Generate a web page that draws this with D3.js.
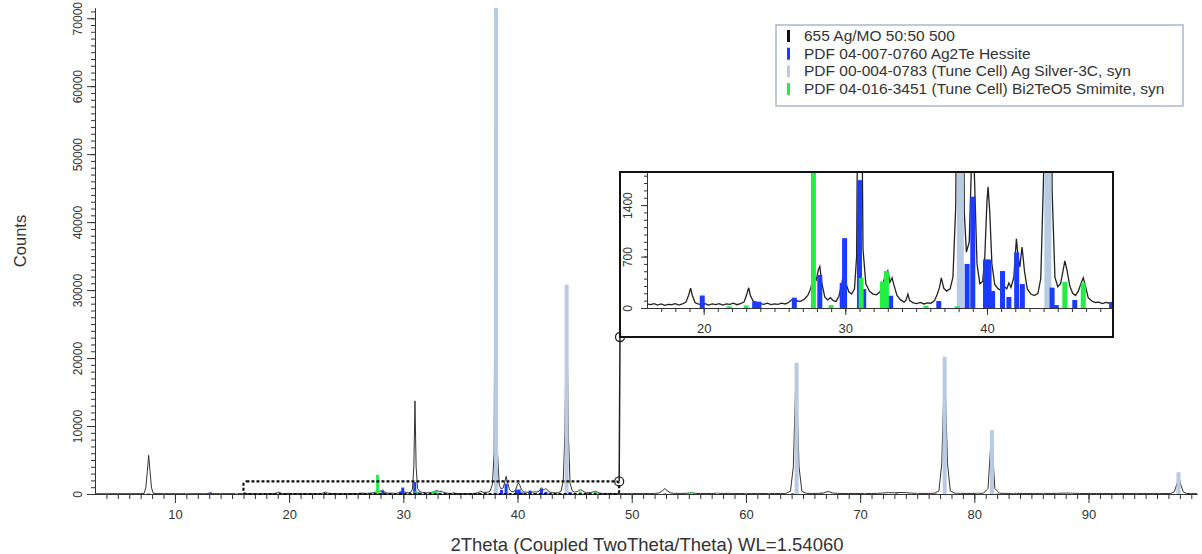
<!DOCTYPE html>
<html>
<head>
<meta charset="utf-8">
<script src="https://cdn.jsdelivr.net/npm/d3@7"></script>
<style>
  body { margin: 0; background: #fff; }
  text { font-family: "Liberation Sans", Arial, sans-serif; fill: #333; }
</style>
</head>
<body>
<svg width="1202" height="554"></svg>
<script>
var svg = d3.select('svg');

// measured scan: [2theta, counts]
var scan = [
  [3.0,30],[3.5,45],[4.0,35],[4.5,50],[5.0,40],[5.5,55],[6.0,45],[6.5,50],[7.0,60],[7.3,90],[7.45,900],[7.58,3300],[7.7,5700],[7.82,3300],[7.95,900],[8.1,100],[8.5,60],
  [9.0,50],[9.5,55],[10.0,45],[10.5,55],[11.0,50],[11.5,45],[12.0,55],[12.5,50],[13.0,60],[13.5,55],[14.0,50],[14.5,60],[15.0,55],[15.5,70],[16.0,55],
  [16.25,45],[16.5,60],[16.75,40],[17.0,55],[17.25,35],[17.5,50],[17.75,45],[18.0,60],[18.25,40],[18.5,55],[18.75,80],[18.95,180],[19.08,270],[19.2,170],[19.4,70],[19.6,55],
  [19.85,45],[20.1,60],[20.35,40],[20.6,55],[20.85,45],[21.1,60],[21.35,40],[21.6,55],[21.85,50],[22.1,65],[22.35,45],[22.6,60],[22.85,80],[23.05,190],[23.18,275],[23.3,170],
  [23.5,90],[23.75,75],[24.0,60],[24.25,50],[24.5,65],[24.75,45],[25.0,55],[25.25,50],[25.5,65],[25.75,55],[26.0,75],[26.2,110],[26.4,130],[26.6,95],[26.85,90],[27.1,120],
  [27.35,170],[27.55,260],[27.75,420],[27.95,380],[28.1,520],[28.2,565],[28.35,330],[28.55,150],[28.75,110],[28.95,140],[29.15,100],[29.35,90],[29.55,160],[29.75,330],[29.9,480],
  [30.05,330],[30.25,220],[30.45,190],[30.65,260],[30.8,700],[30.92,4000],[31.02,13700],[31.12,4000],[31.25,800],[31.45,330],[31.7,230],[31.95,190],[32.2,180],[32.45,220],
  [32.65,320],[32.85,470],[33.0,510],[33.15,350],[33.3,410],[33.45,300],[33.65,170],[33.9,110],[34.15,80],[34.3,110],[34.42,190],[34.55,100],[34.8,70],[35.05,60],[35.3,75],
  [35.55,55],[35.8,70],[36.05,65],[36.3,100],[36.5,190],[36.65,280],[36.78,410],[36.95,270],[37.15,230],[37.4,260],[37.6,420],[37.8,1400],[37.95,6000],[38.1,68000],[38.25,6000],
  [38.4,1300],[38.55,760],[38.75,900],[38.9,1900],[39.0,2600],[39.1,1900],[39.3,600],[39.5,330],[39.7,360],[39.85,700],[40.0,1450],[40.08,1650],[40.2,1300],[40.35,600],[40.55,320],
  [40.8,260],[41.0,240],[41.2,300],[41.4,260],[41.55,340],[41.7,280],[41.9,420],[42.08,940],[42.2,700],[42.32,560],[42.48,830],[42.65,500],[42.85,260],[43.1,190],[43.35,170],
  [43.6,200],[43.8,400],[44.0,1800],[44.15,9000],[44.3,29500],[44.45,9000],[44.6,1600],[44.8,420],[45.0,290],[45.2,330],[45.35,480],[45.5,640],[45.65,520],[45.85,300],[46.05,200],
  [46.25,170],[46.45,230],[46.65,340],[46.8,410],[46.95,300],[47.15,140],[47.4,95],[47.65,75],[47.9,80],[48.15,60],[48.4,75],[48.65,65],[48.9,80],
  [49.25,60],[49.6,70],[50.0,55],[50.5,70],[51.0,60],[51.5,75],[52.0,80],[52.4,150],[52.7,500],[52.9,800],[53.1,500],[53.4,150],[53.8,90],[54.3,80],[54.8,100],[55.2,180],[55.6,90],
  [56.0,70],[56.5,80],[57.0,70],[57.5,110],[58.0,75],[58.5,90],[59.0,70],[59.5,80],[60.0,75],[60.5,70],[61.0,80],[61.5,70],[62.0,75],[62.5,70],[63.0,80],[63.5,90],[63.9,400],
  [64.15,4000],[64.4,18800],[64.65,4000],[64.9,400],[65.3,100],[65.8,80],[66.3,90],[66.8,150],[67.2,380],[67.6,150],[68.0,90],[68.5,80],[69.0,70],[69.5,80],[70.0,70],[70.5,80],
  [71.0,75],[71.5,90],[72.0,140],[72.5,200],[73.0,180],[73.5,220],[74.0,200],[74.5,120],[75.0,90],[75.5,80],[76.0,90],[76.5,110],[76.9,450],[77.15,4500],[77.4,19500],[77.65,4500],
  [77.9,450],[78.3,110],[78.8,90],[79.3,80],[79.8,90],[80.3,100],[80.8,120],[81.2,800],[81.5,9000],[81.8,800],[82.2,110],[82.7,90],[83.2,80],[83.7,90],[84.2,75],[84.7,80],[85.2,85],
  [85.7,75],[86.2,90],[86.7,80],[87.2,90],[87.7,120],[88.2,130],[88.7,100],[89.2,80],[89.7,75],[90.2,80],[90.7,70],[91.2,75],[91.7,65],[92.2,70],[92.7,60],[93.2,70],[93.7,65],
  [94.2,60],[94.7,70],[95.2,60],[95.7,65],[96.2,60],[96.7,70],[97.2,80],[97.5,300],[97.75,1500],[97.9,2800],[98.05,1500],[98.3,300],[98.6,80],[99.0,60],[99.5,55]
];

// reference patterns: [2theta, intensity]
var hessite = [
  [13.1,250],[19.9,170],[23.6,80],[23.9,86],[26.4,140],[28.2,450],[29.78,340],[29.95,950],[31.0,1740],[31.3,258],[33.2,167],[36.6,95],
  [38.6,600],[39.0,1514],[39.9,660],[40.15,660],[40.4,231],[41.1,503],[41.55,150],[42.1,757],[42.5,326],[44.6,277],[44.9,40],[46.2,109],[48.8,80],
  [50.5,60],[51.6,150],[54.0,80],[58.8,100],[61.2,80],[64.1,100],[66.6,80],[68.8,60],[73.2,80],[76.6,60],[79.0,80],[82.0,60],[85.3,80],
  [87.0,80],[88.8,100],[90.3,80],[92.0,60],[93.7,80],[95.0,60]
];
var silver = [[38.12,71500],[44.3,30800],[64.44,19300],[77.4,20200],[81.54,9400],[97.88,3200]];
var smirnite = [
  [7.7,150],[11.0,80],[15.4,150],[21.8,25],[23.0,35],[27.75,2800],[29.0,40],[31.12,408],[32.62,360],[32.9,503],[35.7,30],[37.9,25],
  [45.5,354],[46.8,345],[52.9,150],[55.2,300],[57.5,150],[60.0,100],[62.0,80],[67.6,100],[70.4,80],[72.0,100],[75.0,100],[78.5,80],
  [80.3,100],[83.4,80],[86.0,80],[88.5,80]
];

var legendLabels = ['655 Ag/MO 50:50 500', 'PDF 04-007-0760 Ag2Te Hessite', 'PDF 00-004-0783 (Tune Cell) Ag Silver-3C, syn', 'PDF 04-016-3451 (Tune Cell) Bi2TeO5 Smimite, syn'];
var legendColors = ['#111', '#1a3cff', '#b8cbe2', '#22ee44'];

var xTicks = [10, 20, 30, 40, 50, 60, 70, 80, 90];
var yTicks = [0, 10000, 20000, 30000, 40000, 50000, 60000, 70000];
var insetXTicks = [20, 30, 40];
var insetYTicks = [0, 700, 1400];

var x = d3.scaleLinear().domain([3, 99.5]).range([95, 1197]);
var y = d3.scaleLinear().domain([0, 71500]).range([494, 8]);

var defs = svg.append('defs');
defs.append('clipPath').attr('id', 'mainclip').append('rect')
  .attr('x', 95).attr('y', 8).attr('width', 1102).attr('height', 486);

function drawBars(g, data, color, w, xs, ys) {
  g.selectAll(null).data(data).enter().append('rect')
    .attr('x', function(d) { return xs(d[0]) - w / 2; })
    .attr('y', function(d) { return ys(d[1]); })
    .attr('width', w)
    .attr('height', function(d) { return ys(0) - ys(d[1]); })
    .attr('fill', color);
}

// main plot
var plot = svg.append('g').attr('clip-path', 'url(#mainclip)');
var line = d3.line().x(function(d) { return x(d[0]); }).y(function(d) { return y(d[1]); });
plot.append('path').datum(scan).attr('d', line)
  .attr('fill', 'none').attr('stroke', '#333').attr('stroke-width', 1);
drawBars(plot, silver, '#b8cbe2', 4, x, y);
drawBars(plot, hessite, '#1a3cff', 3, x, y);
drawBars(plot, smirnite, '#22ee44', 3, x, y);

// axes
var xMinor = d3.range(4, 100, 1);
svg.append('g').attr('transform', 'translate(0,494)')
  .call(d3.axisBottom(x).tickValues(xMinor).tickSize(5).tickSizeOuter(0).tickFormat(''));
var xAxis = svg.append('g').attr('transform', 'translate(0,494)')
  .call(d3.axisBottom(x).tickValues(xTicks).tickSize(9).tickSizeOuter(0).tickPadding(7));
xAxis.selectAll('text').style('font-size', '13px').attr('fill', '#444');

var yMinor = d3.range(0, 71001, 1000);
svg.append('g').attr('transform', 'translate(95,0)')
  .call(d3.axisLeft(y).tickValues(yMinor).tickSize(4).tickSizeOuter(0).tickFormat(''));
var yAxis = svg.append('g').attr('transform', 'translate(95,0)')
  .call(d3.axisLeft(y).tickValues(yTicks).tickSize(8).tickSizeOuter(0).tickFormat(d3.format('d')));
yAxis.selectAll('text')
  .attr('x', 0).attr('y', -13).attr('dy', 0)
  .attr('text-anchor', 'middle').attr('transform', 'rotate(-90)')
  .style('font-size', '12px').attr('fill', '#444');
svg.selectAll('.domain').attr('stroke', '#333');
svg.selectAll('.tick line').attr('stroke', '#333');

svg.append('text').attr('transform', 'translate(26,241) rotate(-90)')
  .attr('text-anchor', 'middle').style('font-size', '16.5px').text('Counts');
svg.append('text').attr('x', 647).attr('y', 551)
  .attr('text-anchor', 'middle').style('font-size', '18.5px').text('2Theta (Coupled TwoTheta/Theta) WL=1.54060');

// zoom region and connector
var zx0 = x(16), zx1 = x(48.9), zy0 = y(1850), zy1 = y(0);
svg.append('rect').attr('x', zx0).attr('y', zy0).attr('width', zx1 - zx0).attr('height', zy1 - zy0)
  .attr('rx', 3).attr('fill', 'none').attr('stroke', '#111').attr('stroke-width', 2.2).attr('stroke-dasharray', '3,2');
svg.append('line').attr('x1', zx1).attr('y1', zy0).attr('x2', 620).attr('y2', 337)
  .attr('stroke', '#222').attr('stroke-width', 1.5);
svg.selectAll(null).data([[zx1, zy0], [620, 337]]).enter().append('circle')
  .attr('cx', function(d) { return d[0]; }).attr('cy', function(d) { return d[1]; })
  .attr('r', 4.5).attr('fill', 'none').attr('stroke', '#222').attr('stroke-width', 1.3);

// inset
var ix = d3.scaleLinear().domain([16, 48.9]).range([647, 1113]);
var iy = d3.scaleLinear().domain([0, 1850]).range([308, 172]);
var inset = svg.append('g');
inset.append('rect').attr('x', 620).attr('y', 172).attr('width', 493).attr('height', 165)
  .attr('fill', '#fff').attr('stroke', '#111').attr('stroke-width', 2);
defs.append('clipPath').attr('id', 'insetclip').append('rect')
  .attr('x', 647).attr('y', 173).attr('width', 465).attr('height', 135);
var iplot = inset.append('g').attr('clip-path', 'url(#insetclip)');
var iline = d3.line().x(function(d) { return ix(d[0]); }).y(function(d) { return iy(d[1]); });
iplot.append('path').datum(scan).attr('d', iline)
  .attr('fill', 'none').attr('stroke', '#222').attr('stroke-width', 1.3);
drawBars(iplot, silver, '#b8cbe2', 7, ix, iy);
drawBars(iplot, hessite, '#1a3cff', 5, ix, iy);
drawBars(iplot, smirnite, '#22ee44', 5, ix, iy);

inset.append('g').attr('transform', 'translate(0,308)')
  .call(d3.axisBottom(ix).tickValues(d3.range(17, 49, 1)).tickSize(4).tickSizeOuter(0).tickFormat(''));
var ixAxis = inset.append('g').attr('transform', 'translate(0,308)')
  .call(d3.axisBottom(ix).tickValues(insetXTicks).tickSize(7).tickSizeOuter(0).tickPadding(9));
ixAxis.selectAll('text').style('font-size', '13px').attr('fill', '#444');
inset.append('g').attr('transform', 'translate(647,0)')
  .call(d3.axisLeft(iy).tickValues(d3.range(0, 1801, 100)).tickSize(3).tickSizeOuter(0).tickFormat(''));
var iyAxis = inset.append('g').attr('transform', 'translate(647,0)')
  .call(d3.axisLeft(iy).tickValues(insetYTicks).tickSize(6).tickSizeOuter(0).tickFormat(d3.format('d')));
iyAxis.selectAll('text')
  .attr('x', 0).attr('y', -15).attr('dy', 0)
  .attr('text-anchor', 'middle').attr('transform', 'rotate(-90)')
  .style('font-size', '12px').attr('fill', '#444');
inset.selectAll('.domain').attr('stroke', '#333');
inset.selectAll('.tick line').attr('stroke', '#333');

// legend
var legend = svg.append('g');
legend.append('rect').attr('x', 776).attr('y', 25).attr('width', 407).attr('height', 81)
  .attr('fill', '#fff').attr('stroke', '#a9b9cf').attr('stroke-width', 1.5);
legendLabels.forEach(function(label, i) {
  var ly = 36 + i * 17.7;
  legend.append('rect').attr('x', 787).attr('y', ly - 6).attr('width', 3).attr('height', 12)
    .attr('fill', legendColors[i]);
  legend.append('text').attr('x', 804).attr('y', ly + 5).style('font-size', '15.5px').text(label);
});
</script>
</body>
</html>
